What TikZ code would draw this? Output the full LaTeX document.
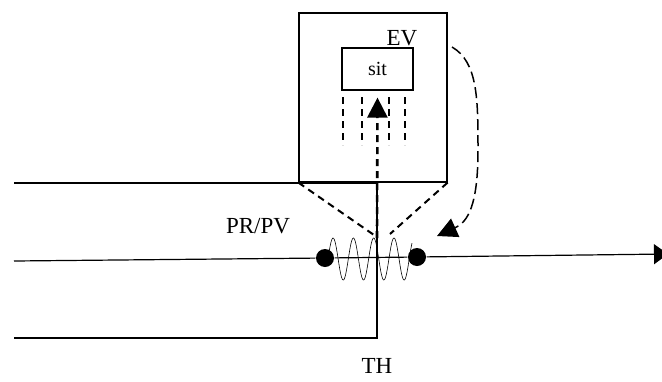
\documentclass[tikz,border=0pt]{standalone}
\usepackage{fontspec}
\setmainfont{Liberation Serif}
\usetikzlibrary{positioning,arrows.meta}

\begin{document}
\begin{tikzpicture}[x=1pt,y=-1pt,>={Triangle[length=20pt,width=20pt]},
  line width=1.2pt,font=\fontsize{23}{27}\selectfont,
  dot/.style={circle,fill,inner sep=0pt,minimum size=18pt},
  dsh/.style={dash pattern=on 7pt off 5pt,line width=2pt}]
\useasboundingbox (0,0) rectangle (662,381);
\node[draw,minimum width=148pt,minimum height=169pt] (ev) at (373,97.5) {};
\node (evlab) at (402,38) {EV};
\node[draw,minimum width=71pt,minimum height=42pt,font=\fontsize{20}{24}\selectfont] (sit) at (377.5,69) {sit};
\foreach \x in {343,362,389,405} \draw[dsh,line width=1.3pt] (\x,97) -- (\x,145);
% pipe walls and the probe
\coordinate (tw) at (14,183);
\coordinate (bw) at (14,338);
\coordinate (th) at (377,338);
\draw (tw) -| (th) -- (bw);
\node[below=17pt of th] (thlab) {TH};
\node (prpv) at (258,226) {PR/PV};
% signal line
\coordinate (mw) at (14,261);
\coordinate (me) at (668,254);
\draw[line width=0.6pt,domain=0:84,samples=150,smooth,variable=\t]
  plot ({328+\t},{259-21*sin(17.73*\t)});
\node[dot] (pl) at (325,258) {};
\node[dot] (pr) at (417,257) {};
\draw[-{Triangle[length=14pt,width=20pt]}] (mw) -- (pl) -- (pr) -- (me);
% dashed view lines
\coordinate (cl) at (374,235);
\coordinate (cr) at (390,234);
\coordinate (src) at (377,238);
\draw[dsh] (ev.south west) -- (cl);
\draw[dsh] (ev.south east) -- (cr);
\draw[->,dsh,line width=2.6pt] (src) -- ([yshift=-7pt]sit.south);
\coordinate (cs) at (452,47);
\coordinate (ce) at (437,236);
\draw[->,dash pattern=on 11pt off 5pt,line width=1.5pt]
  (cs) .. controls (478,62) and (478,100) .. (478,150)
  .. controls (478,205) and (468,222) .. (ce);
\end{tikzpicture}
\end{document}
